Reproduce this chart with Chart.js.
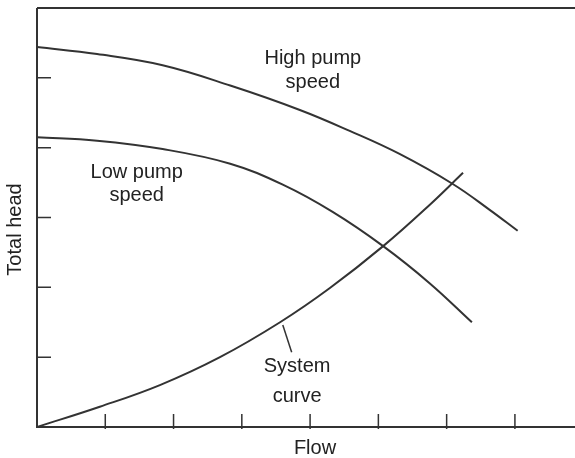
<!DOCTYPE html>
<html>
<head>
<meta charset="utf-8">
<script src="https://cdn.jsdelivr.net/npm/chart.js@4"></script>
<style>
  html, body { margin: 0; padding: 0; background: #fff; }
  #wrap { width: 575px; height: 458px; }
</style>
</head>
<body>
<div id="wrap"><canvas id="pumpChart"></canvas></div>
<script>
// Curves (flow, head) in axis units
const highFlow = [0, 0.88, 1.84, 2.83, 3.85, 4.58, 5.31, 6.09, 6.63, 7.04];
const highHead = [5.44, 5.34, 5.18, 4.89, 4.54, 4.24, 3.91, 3.48, 3.11, 2.81];

const lowFlow = [0, 0.88, 1.84, 2.83, 3.60, 4.33, 5.07, 5.75, 6.37];
const lowHead = [4.15, 4.10, 3.98, 3.77, 3.47, 3.08, 2.59, 2.06, 1.50];

const systemFlow = [0, 0.92, 1.80, 2.68, 3.56, 4.29, 5.07, 5.75, 6.24];
const systemHead = [0, 0.29, 0.60, 1.00, 1.50, 1.99, 2.59, 3.18, 3.64];

// Tick marks along the axes (no numbers)
const flowTicks = [1, 2, 3, 4, 5, 6, 7];
const headTicks = [1, 2, 3, 4, 5];

// Curve labels, anchored in axis units
const curveLabels = [
    { lines: ['High pump', 'speed'], x: 4.04, y: [5.27, 4.94] },
    { lines: ['Low pump', 'speed'], x: 1.46, y: [3.64, 3.32] },
    { lines: ['System', 'curve'], x: 3.81, y: [0.86, 0.43] }
];
const systemPointer = [{ x: 3.60, y: 1.46 }, { x: 3.73, y: 1.07 }];

const INK = '#333';
const FONT = '20px "Liberation Sans", Arial, sans-serif';

function toPoints(xs, ys) {
    return xs.map((x, i) => ({ x, y: ys[i] }));
}

function curve(xs, ys) {
    return {
        data: toPoints(xs, ys),
        showLine: true,
        borderColor: INK,
        borderWidth: 2,
        pointRadius: 0,
        tension: 0.4,
        fill: false
    };
}

// Draws the axes frame, inward ticks, titles and curve labels
const decorations = {
    id: 'decorations',
    afterDatasetsDraw(chart) {
        const { ctx, chartArea: a, scales: { x, y } } = chart;
        ctx.save();
        ctx.strokeStyle = INK;
        ctx.lineWidth = 2;

        ctx.beginPath();
        ctx.moveTo(a.left, a.top);
        ctx.lineTo(a.right, a.top);
        ctx.moveTo(a.left, a.top);
        ctx.lineTo(a.left, a.bottom);
        ctx.lineTo(a.right, a.bottom);
        ctx.stroke();

        ctx.lineWidth = 1.5;
        ctx.beginPath();
        flowTicks.forEach(v => {
            const px = x.getPixelForValue(v);
            ctx.moveTo(px, a.bottom + 2);
            ctx.lineTo(px, a.bottom - 13);
        });
        headTicks.forEach(v => {
            const py = y.getPixelForValue(v);
            ctx.moveTo(a.left, py);
            ctx.lineTo(a.left + 14, py);
        });
        ctx.stroke();

        ctx.beginPath();
        ctx.moveTo(x.getPixelForValue(systemPointer[0].x), y.getPixelForValue(systemPointer[0].y));
        ctx.lineTo(x.getPixelForValue(systemPointer[1].x), y.getPixelForValue(systemPointer[1].y));
        ctx.stroke();

        ctx.fillStyle = '#222';
        ctx.font = FONT;
        ctx.textAlign = 'center';
        ctx.textBaseline = 'middle';
        curveLabels.forEach(lbl => {
            const px = x.getPixelForValue(lbl.x);
            lbl.lines.forEach((t, i) => ctx.fillText(t, px, y.getPixelForValue(lbl.y[i])));
        });

        ctx.fillText('Flow', (a.left + a.right) / 2 + 9, a.bottom + 21);

        ctx.translate(15, y.getPixelForValue(3) + 12);
        ctx.rotate(-Math.PI / 2);
        ctx.fillText('Total head', 0, 0);
        ctx.restore();
    }
};

new Chart(document.getElementById('pumpChart'), {
    type: 'scatter',
    data: {
        datasets: [
            curve(highFlow, highHead),
            curve(lowFlow, lowHead),
            curve(systemFlow, systemHead)
        ]
    },
    options: {
        responsive: true,
        maintainAspectRatio: false,
        animation: false,
        layout: { padding: { left: 37, right: 0, top: 8, bottom: 31 } },
        plugins: {
            legend: { display: false },
            tooltip: { enabled: false }
        },
        scales: {
            x: { type: 'linear', min: 0, max: 7.88, display: false },
            y: { type: 'linear', min: 0, max: 6, display: false }
        }
    },
    plugins: [decorations]
});
</script>
</body>
</html>
